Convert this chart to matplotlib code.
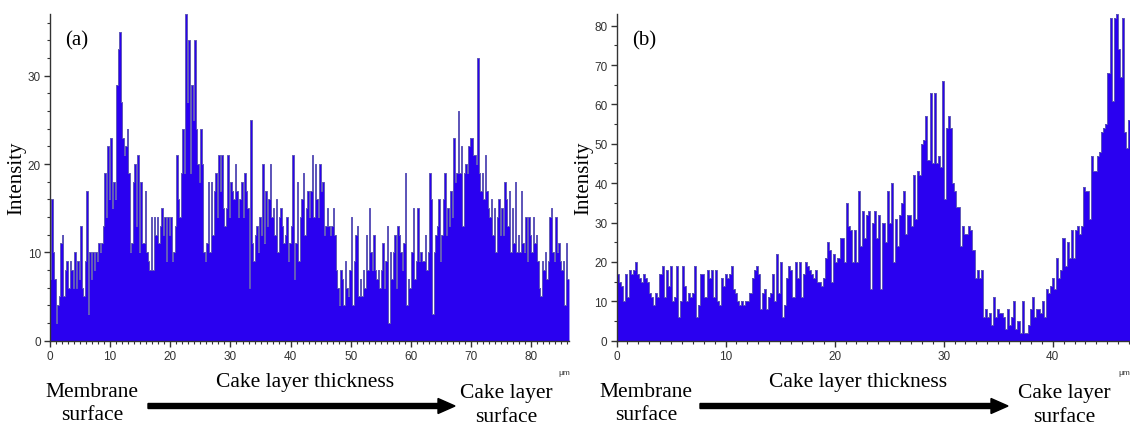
import numpy as np
import matplotlib.pyplot as plt
from matplotlib.patches import FancyArrow
from matplotlib.ticker import MultipleLocator

# panel (a): intensity per 0.25 um step along the cake layer
step_a = 0.25
intensity_a = [
    7, 16, 10, 7, 2, 4, 5, 11, 12, 5, 8, 9, 6, 9, 8, 6,
    10, 6, 9, 7, 13, 6, 5, 9, 17, 3, 10, 7, 10, 8, 10, 9,
    11, 10, 11, 13, 19, 14, 22, 16, 23, 15, 18, 16, 29, 33, 35, 27,
    23, 21, 22, 24, 19, 10, 11, 18, 20, 13, 21, 10, 18, 11, 11, 17,
    10, 9, 8, 14, 8, 14, 12, 14, 11, 13, 15, 12, 14, 9, 14, 12,
    14, 9, 10, 13, 21, 16, 14, 19, 24, 19, 37, 27, 34, 19, 29, 25,
    34, 24, 20, 18, 24, 20, 10, 9, 11, 18, 10, 18, 12, 17, 19, 14,
    21, 17, 21, 15, 13, 15, 21, 14, 18, 17, 16, 20, 17, 14, 16, 18,
    14, 19, 17, 15, 6, 25, 11, 9, 12, 13, 10, 14, 12, 20, 11, 17,
    13, 16, 20, 14, 15, 12, 16, 10, 14, 15, 13, 11, 12, 14, 9, 11,
    13, 21, 7, 11, 18, 9, 14, 16, 19, 12, 15, 17, 14, 17, 21, 14,
    20, 16, 14, 20, 17, 18, 12, 13, 15, 13, 12, 13, 15, 12, 8, 6,
    4, 8, 7, 4, 9, 6, 5, 8, 14, 4, 9, 12, 13, 5, 7, 5,
    8, 6, 12, 8, 15, 10, 8, 12, 8, 7, 8, 6, 8, 11, 6, 9,
    13, 2, 10, 7, 10, 12, 6, 13, 12, 10, 8, 11, 19, 4, 7, 6,
    10, 15, 7, 9, 15, 9, 10, 9, 9, 12, 8, 10, 19, 16, 3, 10,
    12, 13, 16, 9, 12, 16, 19, 12, 15, 13, 17, 14, 23, 18, 19, 26,
    19, 22, 13, 19, 20, 19, 22, 23, 23, 21, 21, 20, 32, 19, 17, 19,
    16, 21, 17, 15, 14, 16, 12, 15, 10, 14, 16, 12, 15, 12, 18, 16,
    13, 17, 10, 15, 11, 18, 10, 12, 10, 17, 11, 10, 14, 9, 14, 12,
    10, 14, 11, 12, 9, 6, 5, 9, 8, 10, 7, 9, 14, 15, 10, 9,
    14, 10, 11, 9, 8, 9, 4, 11, 7,
]

# panel (b): intensity per ~0.19 um step
step_b = 0.1876
intensity_b = [
    17, 15, 14, 10, 17, 11, 18, 17, 18, 20, 17, 16, 15, 17, 16, 15,
    12, 11, 9, 12, 11, 17, 19, 11, 18, 14, 19, 10, 11, 19, 6, 10,
    19, 14, 10, 12, 11, 12, 19, 6, 9, 17, 17, 11, 18, 16, 18, 11,
    18, 10, 9, 16, 14, 17, 16, 17, 19, 13, 12, 10, 9, 10, 9, 10,
    10, 12, 16, 18, 19, 17, 8, 12, 13, 8, 11, 12, 17, 10, 22, 12,
    20, 6, 9, 16, 19, 18, 11, 20, 16, 20, 11, 17, 20, 19, 18, 17,
    16, 18, 15, 15, 14, 16, 21, 25, 23, 15, 22, 20, 21, 26, 26, 20,
    35, 29, 28, 20, 28, 20, 38, 24, 33, 26, 32, 33, 13, 30,
    33, 26, 32, 13, 30, 25, 38, 30, 40, 20, 31, 24, 32, 35, 38, 27,
    32, 32, 29, 42, 31, 43, 42, 50, 51, 57, 46, 63, 45, 63, 45, 47,
    44, 66, 36, 54, 57, 54, 40, 38, 34, 34, 24, 29, 27, 27, 29, 28,
    23, 16, 18, 16, 18, 6, 8, 6, 7, 4, 11, 6, 8, 7, 7, 6,
    3, 8, 4, 6, 10, 3, 5, 2, 10, 2, 2, 4, 8, 11, 6, 8,
    8, 7, 10, 6, 13, 12, 14, 16, 13, 21, 16, 18, 26, 19, 25, 21,
    28, 21, 28, 29, 27, 29, 39, 38, 38, 31, 47, 43, 43, 47, 48, 53,
    54, 55, 68, 82, 61, 82, 83, 74, 67, 82, 53, 49, 56,
]

fill_color = '#2a00f0'
edge_color = '#6058b8'
serif = ['Liberation Serif', 'DejaVu Serif']
narrow = ['Liberation Sans Narrow', 'Liberation Sans', 'DejaVu Sans']

fig = plt.figure(figsize=(11.3, 4.27), dpi=100)
ax_a = fig.add_axes([0.0442, 0.2, 0.4593, 0.765])
ax_b = fig.add_axes([0.5456, 0.2, 0.4544, 0.765])


def draw_panel(ax, values, step, ymax, ymajor, yminor, tag):
    # step outline: repeat last value so the final bin is closed
    x = np.arange(len(values) + 1) * step
    y = np.append(values, values[-1])
    ax.fill_between(x, y, step='post', color=fill_color, linewidth=0)
    ax.step(x, y, where='post', color=edge_color, linewidth=0.7)
    ax.set_xlim(0, len(values) * step)
    ax.set_ylim(0, ymax)
    ax.spines[['top', 'right']].set_visible(False)
    for s in ['left', 'bottom']:
        ax.spines[s].set_color('#333333')
        ax.spines[s].set_linewidth(1.0)
    ax.xaxis.set_major_locator(MultipleLocator(10))
    ax.xaxis.set_minor_locator(MultipleLocator(1))
    ax.yaxis.set_major_locator(MultipleLocator(ymajor))
    ax.yaxis.set_minor_locator(MultipleLocator(yminor))
    ax.tick_params(which='major', length=4.5, width=1.0, color='#333333',
                   labelsize=8.5, labelcolor='#333333', pad=2)
    ax.tick_params(which='minor', length=2.5, width=0.8, color='#333333')
    for lab in ax.get_xticklabels() + ax.get_yticklabels():
        lab.set_family(narrow)
    ax.set_ylabel('Intensity', family=serif, fontsize=15, labelpad=1)
    ax.text(0.03, 0.92, tag, transform=ax.transAxes, family=serif,
            fontsize=15, va='center', ha='left')


draw_panel(ax_a, intensity_a, step_a, 37, 10, 2, '(a)')
draw_panel(ax_b, intensity_b, step_b, 83, 10, 5, '(b)')

# labels and arrows under each panel, figure pixel coords
W, H = 1130, 427


def fx(px):
    return px / W


def fy(py):
    return 1 - py / H


for memb_x, thick_x, arrow_x0, arrow_x1, cake_x, um_x in [
        (92, 305, 148, 455, 506, 570), (646, 858, 700, 1008, 1064, 1130)]:
    fig.text(fx(memb_x), fy(393), 'Membrane', family=serif, fontsize=15.5,
             ha='center', va='center')
    fig.text(fx(memb_x), fy(416), 'surface', family=serif, fontsize=15.5,
             ha='center', va='center')
    fig.text(fx(thick_x), fy(383), 'Cake layer thickness', family=serif,
             fontsize=15.5, ha='center', va='center')
    fig.text(fx(cake_x), fy(394), 'Cake layer', family=serif, fontsize=15.5,
             ha='center', va='center')
    fig.text(fx(cake_x), fy(418), 'surface', family=serif, fontsize=15.5,
             ha='center', va='center')
    fig.text(fx(um_x), fy(374), 'μm', family=narrow, fontsize=6,
             ha='right', va='center', color='#333333')
    fig.patches.append(FancyArrow(
        fx(arrow_x0), fy(407), fx(arrow_x1 - arrow_x0), 0,
        width=5 / H, head_width=15 / H, head_length=fx(17),
        length_includes_head=True, color='black',
        transform=fig.transFigure, figure=fig))

fig.savefig('out.png', dpi=100)
